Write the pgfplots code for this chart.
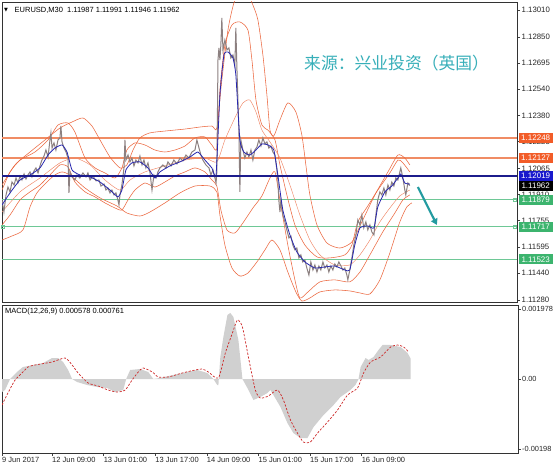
\documentclass[border=0pt]{standalone}
\usepackage{fontspec}
\setmainfont{Liberation Sans}
\newfontfamily\cjk{Noto Sans CJK SC}
\newfontfamily\dejavu{DejaVu Sans}
\usepackage{pgfplots}
\usepackage{pgfplotstable}
\pgfplotsset{compat=1.18}
\usetikzlibrary{arrows.meta}

\definecolor{bandc}{RGB}{236,104,64}
\definecolor{levelc}{RGB}{240,140,100}
\definecolor{levelbox}{RGB}{242,92,40}
\definecolor{navyline}{RGB}{28,28,140}
\definecolor{bluebox}{RGB}{25,25,205}
\definecolor{greenline}{RGB}{110,200,150}
\definecolor{greenbox}{RGB}{60,180,110}
\definecolor{pricec}{RGB}{140,128,128}
\definecolor{mac}{RGB}{40,40,175}
\definecolor{tealc}{RGB}{35,155,160}
\definecolor{cntext}{RGB}{55,175,185}
\definecolor{histc}{RGB}{208,208,208}
\definecolor{sigc}{RGB}{205,40,40}

% EURUSD M30 closes (bar index, price)
\pgfplotstableread{
bar price
0 1.11877
1.2 1.11805
2.5 1.11907
3.7 1.11954
5.0 1.11925
6.2 1.11984
7.5 1.11966
8.7 1.12008
9.9 1.11978
11.2 1.12020
12.4 1.11996
13.7 1.12032
14.9 1.12002
16.1 1.12026
17.4 1.12044
18.6 1.12014
19.9 1.12050
21.1 1.12068
22.4 1.12038
23.6 1.12080
24.8 1.12115
26.1 1.12139
27.3 1.12175
28.6 1.12133
29.8 1.12235
30.4 1.12277
31.1 1.12187
32.3 1.12217
33.5 1.12175
34.8 1.12235
36.0 1.12247
36.6 1.12318
37.3 1.12223
38.5 1.12187
39.8 1.12163
41.0 1.12127
41.6 1.11919
42.2 1.12044
43.5 1.12014
45.3 1.11996
46.6 1.12026
48.4 1.12008
50.3 1.12038
52.2 1.12014
53.4 1.12038
54.7 1.11996
56.5 1.12020
58.4 1.11991
60.2 1.11996
61.5 1.11960
63.4 1.11972
64.6 1.11936
65.8 1.11948
67.1 1.11919
68.3 1.11936
69.6 1.11907
70.8 1.11919
72.0 1.11877
72.7 1.11847
73.3 1.11907
74.5 1.11966
75.8 1.12068
76.4 1.12235
77.0 1.12115
78.3 1.12145
79.5 1.12104
80.7 1.12127
82.0 1.12080
83.2 1.12115
84.5 1.12098
85.7 1.12139
87.0 1.12086
88.2 1.12115
89.4 1.12068
90.7 1.12098
91.9 1.12044
93.2 1.11936
94.4 1.12026
95.7 1.12008
96.9 1.12044
98.1 1.12068
100.0 1.12086
101.9 1.12068
103.1 1.12104
105.0 1.12080
106.8 1.12115
108.7 1.12092
110.6 1.12127
112.4 1.12110
114.3 1.12145
116.1 1.12127
118.0 1.12163
119.9 1.12175
121.1 1.12235
122.4 1.12187
123.6 1.12145
124.8 1.12115
126.7 1.12086
128.6 1.12068
129.8 1.12026
131.1 1.12056
132.3 1.12008
133.0 1.11978
133.5 1.12044
134.2 1.12712
134.8 1.12784
135.4 1.12712
136.0 1.12802
136.6 1.12963
137.3 1.12772
138.5 1.12831
139.8 1.12772
141.0 1.12784
142.2 1.12724
143.5 1.12742
144.7 1.12682
145.3 1.12903
146.0 1.12652
146.6 1.12473
147.2 1.12294
147.8 1.11925
148.4 1.12235
149.7 1.12175
150.9 1.12127
152.2 1.12163
153.4 1.12133
154.7 1.12175
155.9 1.12115
157.1 1.12175
158.4 1.12193
159.6 1.12235
160.9 1.12199
162.1 1.12247
163.4 1.12211
164.6 1.12223
165.8 1.12187
167.1 1.12199
168.3 1.12163
169.6 1.12145
170.8 1.12056
171.4 1.11996
172.0 1.11877
172.7 1.11805
173.3 1.11877
174.5 1.11787
175.8 1.11746
177.0 1.11698
178.3 1.11650
179.5 1.11662
180.7 1.11608
182.0 1.11579
183.2 1.11590
184.5 1.11531
185.7 1.11549
186.9 1.11507
188.2 1.11519
189.4 1.11471
190.7 1.11429
191.9 1.11507
193.2 1.11459
194.4 1.11489
195.7 1.11447
196.9 1.11483
198.1 1.11459
199.4 1.11507
200.6 1.11471
201.9 1.11489
203.1 1.11447
204.3 1.11483
205.6 1.11459
206.8 1.11495
208.1 1.11477
209.3 1.11507
210.6 1.11483
211.8 1.11459
213.0 1.11471
214.3 1.11429
214.9 1.11400
216.1 1.11459
217.4 1.11531
218.6 1.11608
219.9 1.11668
221.1 1.11758
222.4 1.11728
223.6 1.11787
224.8 1.11710
226.1 1.11746
227.3 1.11698
228.6 1.11728
229.8 1.11686
231.1 1.11668
232.3 1.11787
233.5 1.11877
234.8 1.11925
236.0 1.11907
237.3 1.11948
238.5 1.11907
239.8 1.11966
241.0 1.11936
242.2 1.11984
243.5 1.11960
244.7 1.12008
246.0 1.11996
247.2 1.12044
247.8 1.12068
249.1 1.12008
250.3 1.11936
250.9 1.11907
252.2 1.11978
253.4 1.11962
}\closes

% fast moving average
\pgfplotstableread{
bar price
0 1.11847
5.0 1.11919
11.2 1.11996
17.4 1.12026
23.6 1.12068
28.6 1.12145
32.9 1.12187
37.3 1.12205
40.4 1.12163
43.5 1.12056
48.4 1.12026
54.7 1.12014
60.9 1.11984
67.1 1.11936
72.0 1.11895
74.5 1.11936
77.0 1.12056
80.7 1.12098
85.7 1.12104
90.7 1.12068
95.0 1.12008
98.1 1.12044
104.3 1.12080
110.6 1.12104
116.8 1.12133
121.7 1.12163
126.1 1.12115
130.4 1.12068
133.0 1.12026
135.4 1.12503
137.9 1.12742
140.4 1.12760
143.5 1.12724
145.3 1.12623
147.8 1.12235
150.3 1.12163
154.0 1.12145
157.8 1.12175
161.5 1.12211
165.2 1.12205
168.9 1.12175
171.4 1.12026
174.5 1.11817
178.9 1.11668
183.2 1.11567
188.2 1.11507
194.4 1.11471
200.6 1.11477
206.8 1.11483
213.0 1.11459
216.1 1.11459
219.2 1.11608
222.4 1.11710
227.3 1.11722
231.1 1.11710
233.5 1.11835
237.9 1.11925
242.2 1.11960
246.0 1.12008
247.8 1.12032
250.3 1.11978
253.4 1.11972
}\mavg

% Bollinger bands: inner upper / lower
\pgfplotstableread{
bar price
0 1.11936
5.0 1.12044
11.2 1.12115
20.5 1.12163
28.6 1.12235
34.8 1.12324
41.0 1.12336
45.3 1.12282
51.6 1.12127
57.8 1.12068
64.0 1.12038
70.2 1.12008
74.5 1.12068
77.6 1.12175
82.6 1.12217
88.8 1.12205
95.0 1.12175
101.2 1.12163
107.5 1.12175
113.7 1.12199
119.9 1.12247
126.1 1.12253
130.4 1.12205
133.5 1.12187
135.4 1.12533
138.5 1.12802
142.9 1.12921
147.8 1.12939
152.8 1.12891
155.3 1.12712
157.8 1.12473
161.5 1.12324
165.2 1.12294
169.6 1.12235
172.7 1.12086
177.0 1.11907
182.0 1.11728
188.2 1.11608
195.7 1.11537
203.7 1.11531
213.0 1.11549
217.4 1.11608
221.1 1.11746
227.3 1.11841
233.5 1.11936
241.0 1.12038
246.0 1.12115
249.1 1.12098
253.4 1.12044
}\innerup

\pgfplotstableread{
bar price
0 1.11728
5.0 1.11787
11.2 1.11877
17.4 1.11925
23.6 1.11966
29.8 1.12026
36.0 1.12086
41.0 1.12074
45.3 1.11984
51.6 1.11925
57.8 1.11895
64.0 1.11859
70.2 1.11829
74.5 1.11817
78.3 1.11877
82.6 1.11936
88.8 1.11978
95.0 1.11954
101.2 1.11984
107.5 1.12020
113.7 1.12044
119.9 1.12068
126.1 1.12044
130.4 1.11996
133.5 1.11960
136.0 1.11817
139.8 1.11698
144.7 1.11680
149.7 1.11740
155.9 1.11829
161.5 1.11901
166.5 1.12008
169.6 1.12044
172.7 1.11877
177.6 1.11608
182.0 1.11400
185.1 1.11292
190.1 1.11328
197.5 1.11388
206.8 1.11400
216.1 1.11388
222.4 1.11447
228.6 1.11549
236.6 1.11686
244.1 1.11799
249.1 1.11877
253.4 1.11907
}\innerlo

% Bollinger bands: outer upper / lower and middle line
\pgfplotstableread{
bar price
0 1.11966
8.1 1.12086
17.4 1.12163
26.7 1.12235
36.0 1.12306
43.5 1.12342
50.3 1.12366
55.9 1.12318
60.9 1.12235
67.1 1.12133
73.3 1.12068
77.6 1.12086
81.4 1.12175
85.7 1.12247
91.9 1.12277
101.2 1.12288
113.7 1.12300
123.0 1.12312
130.4 1.12318
133.5 1.12306
136.6 1.12593
140.4 1.12891
144.1 1.13052
148.4 1.13130
152.2 1.13118
155.9 1.13040
159.0 1.12951
162.1 1.12742
164.6 1.12503
166.5 1.12294
168.9 1.12259
172.7 1.12354
177.6 1.12456
182.6 1.12402
186.3 1.12265
188.8 1.12086
191.3 1.11907
195.7 1.11728
201.9 1.11620
209.9 1.11590
217.4 1.11626
223.6 1.11746
231.7 1.11907
239.8 1.12044
246.0 1.12145
250.3 1.12127
253.4 1.12086
}\outerup

\pgfplotstableread{
bar price
0 1.11638
6.2 1.11662
13.0 1.11698
17.4 1.11835
21.7 1.11919
27.9 1.11984
32.9 1.12026
37.3 1.12044
42.2 1.12026
51.6 1.11948
60.9 1.11889
71.4 1.11841
77.6 1.11799
85.7 1.11781
91.9 1.11805
101.2 1.11859
110.6 1.11919
119.9 1.11960
129.2 1.11960
133.5 1.11925
135.4 1.11787
138.5 1.11608
142.9 1.11471
147.8 1.11423
152.8 1.11441
158.4 1.11507
163.4 1.11579
167.7 1.11638
172.7 1.11579
177.6 1.11447
182.6 1.11328
186.3 1.11274
191.3 1.11292
197.5 1.11328
206.8 1.11340
216.1 1.11334
222.4 1.11322
228.6 1.11316
234.8 1.11400
241.0 1.11561
247.2 1.11746
251.5 1.11835
254.7 1.11859
}\outerlo

\pgfplotstableread{
bar price
0 1.11805
11.2 1.11925
23.6 1.12008
36.0 1.12098
45.3 1.12127
54.7 1.12086
64.0 1.11996
73.3 1.11936
79.5 1.11996
88.8 1.12044
101.2 1.12080
113.7 1.12115
126.1 1.12127
133.5 1.12104
138.5 1.12235
144.7 1.12366
149.7 1.12456
154.0 1.12473
157.8 1.12402
161.5 1.12294
166.5 1.12223
172.7 1.12127
178.9 1.11966
185.1 1.11787
191.3 1.11638
197.5 1.11549
206.8 1.11489
216.1 1.11489
222.4 1.11549
228.6 1.11638
234.8 1.11746
241.0 1.11829
247.2 1.11901
253.4 1.11936
}\midband

% MACD(12,26,9): main histogram and signal
\pgfplotstableread{
bar val
0 0
0 -0.000368
1.9 -0.000311
5.0 0
9.3 0.000198
13.0 0.000339
19.3 0.000396
25.5 0.000453
31.1 0.000594
34.8 0.000594
37.9 0.000481
41.0 0.000255
43.5 0
46.6 -0.000085
52.8 -0.000170
59.0 -0.000226
65.2 -0.000255
70.2 -0.000368
75.2 -0.000311
77.0 0
79.5 0.000255
85.7 0.000283
90.7 0.000198
93.8 0
98.1 0.000030
106.2 0.000113
114.9 0.000198
121.1 0.000255
127.3 0.000170
131.1 0
133.5 -0.000170
134.2 -0.000170
135.4 0.000622
137.3 0.001188
139.8 0.001811
141.6 0.001867
143.5 0.001754
146.6 0.001103
149.1 0
152.2 -0.000255
155.9 -0.000594
160.2 -0.000509
164.6 -0.000396
166.5 -0.000311
172.7 -0.000792
177.0 -0.001245
180.7 -0.001528
185.1 -0.001669
189.4 -0.001669
193.2 -0.001358
199.4 -0.001018
205.6 -0.000736
209.9 -0.000509
216.1 -0.000311
219.2 -0.000170
221.1 0
222.4 0.000339
225.5 0.000594
227.3 0.000537
230.4 0.000622
233.5 0.000820
236.0 0.000962
241.0 0.000962
247.2 0.000905
251.5 0.000736
253.4 0.000578
253.4 0
}\macdmain

\pgfplotstableread{
bar val
0 -0.000736
3.7 -0.000396
8.1 -0.000028
12.4 0.000170
16.1 0.000339
20.5 0.000396
31.1 0.000481
39.1 0.000594
43.5 0.000396
47.2 0.000170
53.4 -0.000113
59.6 -0.000198
65.8 -0.000311
71.4 -0.000368
76.4 -0.000311
80.7 -0.000028
84.5 0.000198
87.6 0.000311
93.2 0.000198
96.9 0.000057
103.1 0.000057
111.8 0.000170
119.9 0.000255
124.2 0.000283
128.0 0.000198
134.2 0.000028
138.5 0.000736
142.9 0.001301
146.0 0.001669
149.1 0.001471
152.8 0.000622
157.1 -0.000311
160.2 -0.000538
165.2 -0.000481
170.8 -0.000311
174.5 -0.000594
178.9 -0.001160
183.2 -0.001528
186.9 -0.001782
191.3 -0.001782
195.7 -0.001528
201.9 -0.001216
208.1 -0.000877
214.3 -0.000453
220.5 -0.000255
224.2 0.000170
228.6 0.000481
234.8 0.000622
241.0 0.000905
245.3 0.000962
249.1 0.000905
252.2 0.000761
}\macdsig

\tikzset{pricebox/.style={anchor=west, inner sep=0pt, minimum width=34pt,
  minimum height=10pt, text=white, font=\fontsize{8}{9}\selectfont}}

\begin{document}
\begin{tikzpicture}
\fill[white] (0pt,0pt) rectangle (554pt,472pt);
\path[use as bounding box] (0pt,0pt) rectangle (554pt,472pt);

% ---- price window ----
\begin{axis}[
  at={(2pt,170pt)}, anchor=south west, scale only axis,
  width=515pt, height=300pt,
  xmin=0, xmax=320, ymin=1.11268, ymax=1.13058,
  scaled y ticks=false,
  xtick=\empty,
  ytick={1.11280,1.11440,1.11595,1.11755,1.11910,1.12065,1.12225,1.12380,1.12540,1.12695,1.12850,1.13010},
  yticklabels={1.11280,1.11440,1.11595,1.11755,1.11910,1.12065,1.12225,1.12380,1.12540,1.12695,1.12850,1.13010},
  ytick pos=right, yticklabel pos=right,
  tick align=outside, major tick length=3pt,
  tick style={black!75, line width=0.5pt},
  yticklabel style={font=\fontsize{7.8}{9}\selectfont, text=black!85, inner sep=1.5pt},
  axis line style={black!80, line width=0.7pt},
]
% horizontal levels
\addplot[levelc, line width=1.7pt] coordinates {(0,1.12248) (320,1.12248)};
\addplot[levelc, line width=1.7pt] coordinates {(0,1.12127) (320,1.12127)};
\addplot[greenline, line width=0.8pt] coordinates {(0,1.11879) (320,1.11879)};
\addplot[greenline, line width=0.8pt] coordinates {(0,1.11717) (320,1.11717)};
\addplot[greenline, line width=0.8pt] coordinates {(0,1.11523) (320,1.11523)};
\addplot[only marks, mark=square, mark size=1.6pt, greenline, mark options={line width=0.6pt}]
  coordinates {(0.6,1.11717) (318.8,1.11879) (318.8,1.11717)};
% Bollinger bands
\addplot[bandc, line width=0.55pt, smooth, tension=0.4] table[x=bar,y=price] {\outerup};
\addplot[bandc, line width=0.55pt, smooth, tension=0.4] table[x=bar,y=price] {\outerlo};
\addplot[bandc, line width=0.55pt, smooth, tension=0.4] table[x=bar,y=price] {\innerup};
\addplot[bandc, line width=0.55pt, smooth, tension=0.4] table[x=bar,y=price] {\innerlo};
\addplot[bandc!80, line width=0.45pt, smooth, tension=0.4] table[x=bar,y=price] {\midband};
% price and moving average
\addplot[pricec, line width=1.0pt] table[x=bar,y=price] {\closes};
\addplot[mac, line width=0.8pt, smooth, tension=0.3] table[x=bar,y=price] {\mavg};
\addplot[navyline, line width=2.2pt] coordinates {(0,1.12019) (320,1.12019)};
% expected move
\draw[tealc, line width=2.2pt, -{Triangle[length=6pt,width=7pt]}]
  (axis cs:258.4,1.11954) -- (axis cs:270.2,1.11728);
\coordinate (b1) at (axis cs:320,1.12248);
\coordinate (b2) at (axis cs:320,1.12127);
\coordinate (b3) at (axis cs:320,1.12019);
\coordinate (b4) at (axis cs:320,1.11962);
\coordinate (b5) at (axis cs:320,1.11879);
\coordinate (b6) at (axis cs:320,1.11717);
\coordinate (b7) at (axis cs:320,1.11523);
\end{axis}

% ---- MACD window ----
\begin{axis}[
  at={(2pt,19pt)}, anchor=south west, scale only axis,
  width=516pt, height=148pt,
  xmin=0, xmax=320, ymin=-0.002093, ymax=0.002093,
  scaled y ticks=false,
  xtick={0,31,63,95,127,159,191,223},
  xticklabels={9 Jun 2017,12 Jun 09:00,13 Jun 01:00,13 Jun 17:00,14 Jun 09:00,15 Jun 01:00,15 Jun 17:00,16 Jun 09:00},
  xtick pos=bottom,
  ytick={-0.00198,0,0.00198},
  yticklabels={-0.00198,0.00,0.001978},
  ytick pos=right, yticklabel pos=right,
  tick align=outside, major tick length=3pt,
  tick style={black!75, line width=0.5pt},
  xticklabel style={font=\fontsize{7.5}{9}\selectfont, text=black!85, anchor=north west, inner sep=1pt, xshift=-1pt},
  yticklabel style={font=\fontsize{7.4}{9}\selectfont, text=black!85, inner sep=1pt},
  axis line style={black!80, line width=0.7pt},
]
\addplot[fill=histc, draw=none] table[x=bar,y=val] {\macdmain} -- cycle;
\addplot[sigc, line width=0.7pt, dash pattern=on 2.2pt off 1.6pt, smooth, tension=0.4]
  table[x=bar,y=val] {\macdsig};
\end{axis}

% price boxes on the right scale
\node[pricebox, fill=levelbox] at ([xshift=1.5pt]b1) {1.12248};
\node[pricebox, fill=levelbox] at ([xshift=1.5pt]b2) {1.12127};
\node[pricebox, fill=bluebox] at ([xshift=1.5pt]b3) {1.12019};
\node[pricebox, fill=black] at ([xshift=1.5pt]b4) {1.11962};
\node[pricebox, fill=greenbox] at ([xshift=1.5pt]b5) {1.11879};
\node[pricebox, fill=greenbox] at ([xshift=1.5pt]b6) {1.11717};
\node[pricebox, fill=greenbox] at ([xshift=1.5pt]b7) {1.11523};

% window captions
\node[anchor=west, inner sep=0pt, font=\dejavu\fontsize{5}{6}\selectfont] at (4pt,462pt) {▼};
\node[anchor=west, inner sep=0pt, font=\fontsize{7.5}{9}\selectfont] at (14.5pt,462pt)
  {EURUSD,M30\ \ 1.11987 1.11991 1.11946 1.11962};
\node[anchor=west, inner sep=0pt, font=\fontsize{7.5}{9}\selectfont] at (5pt,160pt)
  {MACD(12,26,9) 0.000578 0.000761};
\node[anchor=west, inner sep=0pt, text=cntext, font=\cjk\fontsize{16.8}{18}\selectfont]
  at (304pt,409pt) {来源：兴业投资（英国）};
\end{tikzpicture}
\end{document}
